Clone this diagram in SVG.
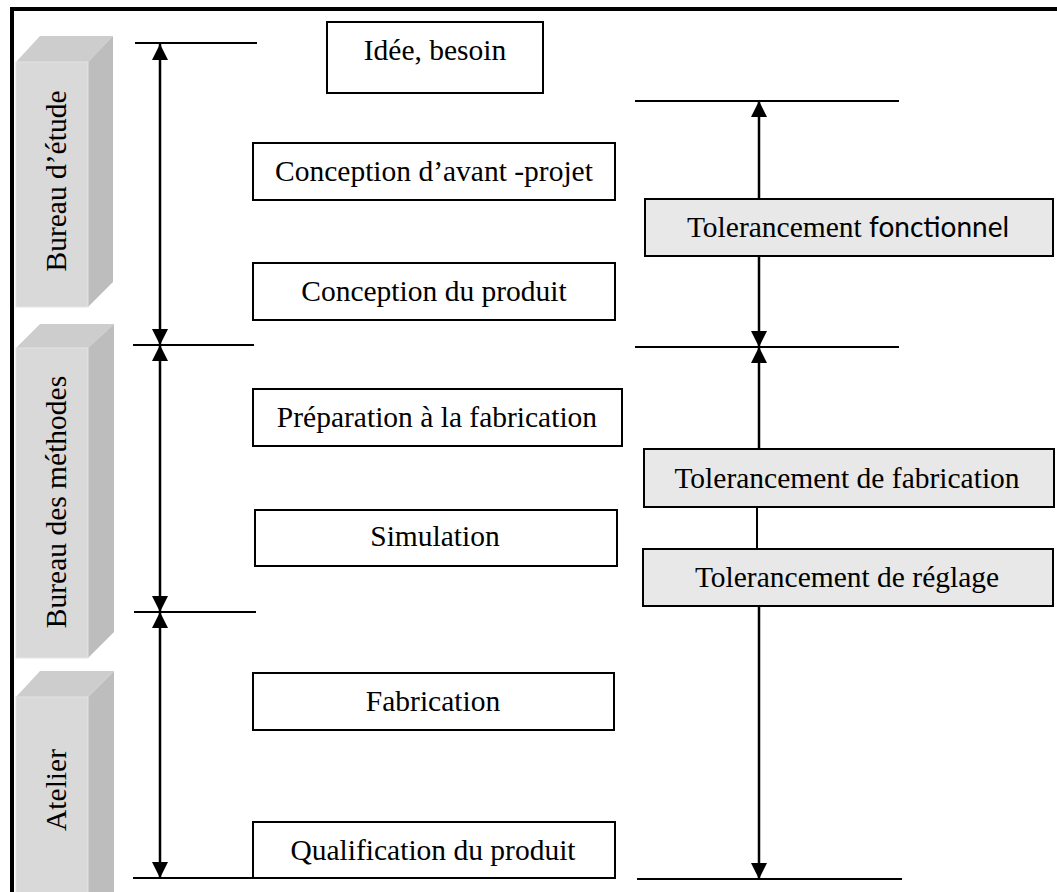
<svg xmlns="http://www.w3.org/2000/svg" width="1057" height="892" viewBox="0 0 1057 892">
<style>
.t{font-family:"Liberation Serif","Times New Roman",serif;font-size:29.5px;fill:#000;text-anchor:middle}
.sans{font-family:Lato,"Open Sans",sans-serif;font-size:28px}
.box{fill:#fff;stroke:#000;stroke-width:2}
.gbox{fill:#e8e8e8;stroke:#000;stroke-width:2}
.front{fill:#d9d9d9;stroke:#e4e4e4;stroke-width:1}
.top{fill:#cdcdcd}
.side{fill:#bdbdbd}
.ln{stroke:#000;stroke-width:2;fill:none}
.ar{stroke:#000;stroke-width:2.5;fill:none}
</style>
<defs>
<marker id="ah" viewBox="0 0 16 16" refX="16" refY="8" markerWidth="16" markerHeight="16" markerUnits="userSpaceOnUse" orient="auto-start-reverse">
<path d="M0,0 L16,8 L0,16 z" fill="#000"/>
</marker>
</defs>
<rect width="1057" height="892" fill="#fff"/>
<g id="frame">
<line x1="10" y1="9" x2="1057" y2="9" stroke="#000" stroke-width="4"/>
<line x1="12" y1="7" x2="12" y2="892" stroke="#000" stroke-width="4"/>
</g>
<g id="bureau-etude">
<polygon class="top" points="16,62 40,36 113,36 88,62"/>
<polygon class="side" points="88,62 113,36 113,282 88,307"/>
<rect class="front" x="16" y="62" width="72" height="245"/>
<text class="t" transform="translate(66,181) rotate(-90)">Bureau d’étude</text>
</g>
<g id="bureau-methodes">
<polygon class="top" points="16,348 40,324 114,324 88,348"/>
<polygon class="side" points="88,348 114,324 114,632 88,658"/>
<rect class="front" x="16" y="348" width="72" height="310"/>
<text class="t" transform="translate(66,502) rotate(-90)">Bureau des méthodes</text>
</g>
<g id="atelier">
<polygon class="top" points="16,697 40,671 114,671 88,697"/>
<polygon class="side" points="88,697 114,671 114,892 88,892"/>
<rect class="front" x="16" y="697" width="72" height="200"/>
<text class="t" transform="translate(66,790) rotate(-90)">Atelier</text>
</g>
<g id="connectors">
<line class="ln" x1="135" y1="43" x2="257" y2="43"/>
<line class="ln" x1="133" y1="345" x2="254" y2="345"/>
<line class="ln" x1="134" y1="612" x2="256" y2="612"/>
<line class="ln" x1="133" y1="878" x2="253" y2="878"/>
<line class="ln" x1="635" y1="101" x2="899" y2="101"/>
<line class="ln" x1="635" y1="347" x2="899" y2="347"/>
<line class="ln" x1="637" y1="879" x2="902" y2="879"/>
<line class="ar" x1="160" y1="44" x2="160" y2="345" marker-start="url(#ah)" marker-end="url(#ah)"/>
<line class="ar" x1="160" y1="345" x2="160" y2="612" marker-start="url(#ah)" marker-end="url(#ah)"/>
<line class="ar" x1="160" y1="612" x2="160" y2="878" marker-start="url(#ah)" marker-end="url(#ah)"/>
<line class="ar" x1="759" y1="101" x2="759" y2="199" marker-start="url(#ah)"/>
<line class="ar" x1="759" y1="256" x2="759" y2="347" marker-end="url(#ah)"/>
<line class="ar" x1="759" y1="347" x2="759" y2="449" marker-start="url(#ah)"/>
<line class="ln" x1="757" y1="507" x2="757" y2="549"/>
<line class="ar" x1="759" y1="606" x2="759" y2="879" marker-end="url(#ah)"/>
</g>
<g id="idee">
<rect class="box" x="327" y="22" width="216" height="71"/>
<text class="t" x="435" y="60">Idée, besoin</text>
</g>
<g id="avant-projet">
<rect class="box" x="253" y="143" width="362" height="57"/>
<text class="t" x="434" y="181">Conception d’avant -projet</text>
</g>
<g id="conception-produit">
<rect class="box" x="253" y="263" width="362" height="57"/>
<text class="t" x="434" y="301">Conception du produit</text>
</g>
<g id="preparation">
<rect class="box" x="253" y="389" width="369" height="57"/>
<text class="t" x="437" y="427">Préparation à la fabrication</text>
</g>
<g id="simulation">
<rect class="box" x="255" y="510" width="362" height="56"/>
<text class="t" x="435" y="546">Simulation</text>
</g>
<g id="fabrication">
<rect class="box" x="253" y="673" width="361" height="57"/>
<text class="t" x="433" y="711">Fabrication</text>
</g>
<g id="qualification">
<rect class="box" x="253" y="822" width="362" height="56"/>
<text class="t" x="433" y="860">Qualification du produit</text>
</g>
<g id="tol-fonctionnel">
<rect class="gbox" x="645" y="199" width="408" height="57"/>
<text class="t" x="848" y="237">Tolerancement <tspan class="sans">fonctionnel</tspan></text>
</g>
<g id="tol-fabrication">
<rect class="gbox" x="644" y="449" width="410" height="58"/>
<text class="t" x="847" y="488">Tolerancement de fabrication</text>
</g>
<g id="tol-reglage">
<rect class="gbox" x="643" y="549" width="410" height="57"/>
<text class="t" x="847" y="587">Tolerancement de réglage</text>
</g>
</svg>
